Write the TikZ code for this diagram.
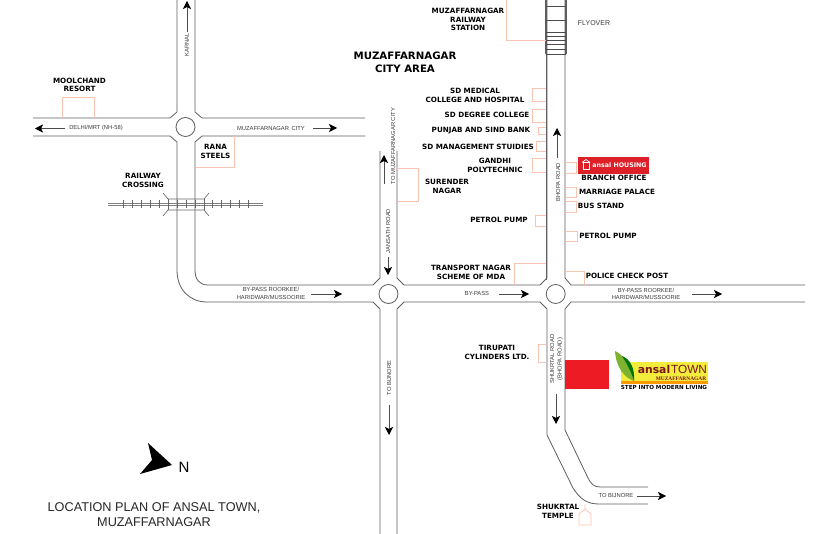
\documentclass[tikz,border=0pt]{standalone}
\usepackage{fontspec}
\setmainfont{Liberation Sans}
\newfontfamily\heavyfont{DejaVu Sans}[BoldFont={DejaVu Sans Bold}]
\newfontfamily\slabfont{Liberation Serif}
\definecolor{roadgray}{HTML}{5E5E5E}
\definecolor{plotpink}{HTML}{F9C4B0}
\definecolor{labelgray}{HTML}{3A3A3A}
\definecolor{ansalred}{HTML}{ED1C24}
\definecolor{housered}{HTML}{DD2027}
\definecolor{townred}{HTML}{7A1420}
\definecolor{townyellow}{HTML}{F2EC3C}
\definecolor{leafgreen}{HTML}{7DB32E}
\usetikzlibrary{arrows.meta}
\tikzset{
    road/.style={draw=roadgray, line width=.8pt},
    plot/.style={draw=plotpink, line width=.7pt},
    dir/.style={-{Stealth[length=8pt,width=8pt,inset=2pt,fill=black,color=black]}, draw=black!70, line width=.6pt},
    place/.style={font=\heavyfont\bfseries\fontsize{7.2}{8.6}\selectfont, align=center, inner sep=0pt, text=black},
    road label/.style={font=\fontsize{5.8}{7.5}\selectfont, align=center, inner sep=0pt, text=labelgray},
    round about/.style={circle, road, minimum size=19pt, inner sep=0pt},
}
\begin{document}
\begin{tikzpicture}[x=1pt, y=-1pt]
\useasboundingbox(0,0)rectangle(840,534);

\draw[road](177,0)--(177,112)--(170,118)--(33,118);
\draw[road](33,136)--(170,136)--(177,142)--(177,270) .. controls (177,290) and (190,302) .. (207,302)--(373,302)--(380,309)--(380,534);
\draw[road](195,0)--(195,112)--(202,118)--(365,118);
\draw[road](365,136)--(202,136)--(195,142)--(195,270) .. controls (195,279) and (199,285) .. (208,285)--(373,285)--(380,278)--(380,151);
\draw[road](397,151)--(397,278)--(404,285)--(540,285)--(547,278)--(547,0);
\draw[road](397,534)--(397,309)--(404,302)--(540,302)--(547,309)--(547,435)--(573,488) .. controls (580,499) and (587,504) .. (599,504)--(648,504);
\draw[road](565,0)--(565,278)--(571,285)--(805,285);
\draw[road](805,302)--(571,302)--(565,309)--(565,430)--(588,478) .. controls (591,484) and (594,487) .. (600,487)--(648,487);
\node[round about](circleA) at (185.5,127){};
\node[round about](circleB) at (388.5,294){};
\node[round about](circleC) at (555.7,294){};

\draw[line width=2.4pt, roadgray](546,0)--(546,54);
\draw[line width=2.4pt, roadgray](566,0)--(566,54);
\draw[line width=1.2pt, roadgray](546.5,54)--(546.5,280);
\foreach \y in {6,20,32,36,40,44,49,54}
{
    \draw[line width=.8pt, black!70](546,\y)--(566,\y);
}

\draw[draw=gray, line width=.6pt](108,203.5)--(263,203.5);
\draw[draw=gray, line width=.6pt](108,205.5)--(263,205.5);
\foreach \x in {123,132,141,150,159,177,186,195,212,221,230,239,248}
{
    \draw[draw=black!60, line width=.6pt](\x,200.5)--(\x,208.5);
}
\draw[draw=black!60, line width=.6pt](163,193)--(168,199)--(204,199)--(209,193);
\draw[draw=black!60, line width=.6pt](163,216)--(168,210)--(204,210)--(209,216);
\draw[draw=black!60, line width=.6pt](168,199)--(168,210);
\draw[draw=black!60, line width=.6pt](204,199)--(204,210);

\draw[plot](62,118)--(62,97)--(94.5,97)--(94.5,118);
\draw[plot](234,136)--(234,167)--(195.5,167);
\draw[plot](506.5,0)--(506.5,40.5)--(546,40.5);
\draw[plot](546,88)--(532,88)--(532,101)--(546,101);
\draw[plot](546,109)--(532,109)--(532,122)--(546,122);
\draw[plot](546,127)--(538,127)--(538,134.5)--(546,134.5);
\draw[plot](546,141)--(536,141)--(536,151)--(546,151);
\draw[plot](546,158)--(532,158)--(532,172)--(546,172);
\draw[plot](397.5,168.5)--(418.5,168.5)--(418.5,201)--(397.5,201);
\draw[plot](546,215)--(535,215)--(535,226)--(546,226);
\draw[plot](514.5,285)--(514.5,263.5)--(546,263.5);
\draw[plot](565.5,162.5)--(576,162.5)--(576,173)--(565.5,173);
\draw[plot](565.5,187)--(576,187)--(576,197)--(565.5,197);
\draw[plot](565.5,201.5)--(576,201.5)--(576,212)--(565.5,212);
\draw[plot](565.5,231)--(577,231)--(577,241)--(565.5,241);
\draw[plot](565.5,271)--(584,271)--(584,285);
\draw[plot](546,344)--(538,344)--(538,362)--(546,362);
\draw[plot](585,504)--(585,509)--(591,514)--(591,525)--(579,525)--(579,514)--(585,509);

\fill[ansalred](565,360)rectangle(609,389);

\node[place](moolchand) at (79.5,85){MOOLCHAND\\RESORT};
\node[place](rana) at (215.5,151.5){RANA\\STEELS};
\node[place](crossing) at (143,180.5){RAILWAY\\CROSSING};
\node[place](station) at (468,19.5){MUZAFFARNAGAR\\RAILWAY\\STATION};
\node[place, font=\heavyfont\bfseries\fontsize{10.2}{13}\selectfont](cityarea) at (405,62.5){MUZAFFARNAGAR\\CITY AREA};
\node[place](medical) at (475,95.5){SD MEDICAL\\COLLEGE AND HOSPITAL};
\node[place](degree) at (487,115){SD DEGREE COLLEGE};
\node[place](bank) at (481,131){PUNJAB AND SIND BANK};
\node[place](management) at (478,146.5){SD MANAGEMENT STUIDIES};
\node[place](gandhi) at (495,165.5){GANDHI\\POLYTECHNIC};
\node[place](surender) at (447,186.5){SURENDER\\NAGAR};
\node[place](pumpL) at (499,219.5){PETROL PUMP};
\node[place](transport) at (471,272.5){TRANSPORT NAGAR\\SCHEME OF MDA};
\node[place](branch) at (614,177.5){BRANCH OFFICE};
\node[place](marriage) at (617,192){MARRIAGE PALACE};
\node[place](busstand) at (601,206){BUS STAND};
\node[place](pumpR) at (608,235.5){PETROL PUMP};
\node[place](police) at (627,276){POLICE CHECK POST};
\node[place](tirupati) at (497,352.5){TIRUPATI\\CYLINDERS LTD.};
\node[place](temple) at (558,511.5){SHUKRTAL\\TEMPLE};

\node[road label, font=\fontsize{7}{8}\selectfont](flyover) at (594,23.5){FLYOVER};
\node[road label](delhi) at (96,128.5){DELHI/MRT (NH-58)};
\node[road label, rotate=90](karnal) at (187,45){KARNAL};
\node[road label](cityE) at (271,128.5){MUZAFFARNAGAR\, CITY};
\node[road label, rotate=90](toCity) at (393,146){TO MUZAFFARNAGAR CITY};
\node[road label, rotate=90](jansath) at (388,231){JANSATH ROAD};
\node[road label, rotate=90](bhopa) at (558,182){BHOPA ROAD};
\node[road label](bypassA) at (271,293.5){BY-PASS ROORKEE/\\HARIDWAR/MUSSOORIE};
\node[road label](bypassB) at (477,293.5){BY-PASS};
\node[road label](bypassC) at (646,294){BY-PASS ROORKEE/\\HARIDWAR/MUSSOORIE};
\node[road label, rotate=90](bijnoreA) at (389,378){TO BIJNORE};
\node[road label, rotate=90](shukrtal) at (556.5,359){SHUKRTAL ROAD\\(BHOPA ROAD)};
\node[road label](bijnoreB) at (616,496){TO BIJNORE};

\draw[dir](65,128.5)--(35,128.5);
\draw[dir](187,32)--(187,1);
\draw[dir](313,128)--(337,128);
\draw[dir](384,184)--(384,155);
\draw[dir](388,257)--(388,275);
\draw[dir](557,158)--(557,128);
\draw[dir](311,294)--(342,294);
\draw[dir](499,294)--(529,294);
\draw[dir](692,294)--(722,294);
\draw[dir](389,405)--(389,435);
\draw[dir](556,394)--(556,424);
\draw[dir](637,496)--(666,496);

\fill[housered](578,157)rectangle(649,174);
\node[inner sep=0pt, text=white, font=\heavyfont\bfseries\fontsize{6.3}{7}\selectfont](housing) at (619.5,165.5){ansal HOUSING};
\draw[white, line width=.7pt](583,162)rectangle(589,169);
\draw[white, line width=.7pt](582,162.5)--(586,159.5)--(590,162.5);

\fill[townyellow](620.7,362)rectangle(707.7,381);
\fill[orange!80!yellow](620.7,381)rectangle(707.7,384);
\fill[leafgreen](615,351) .. controls (622,354) and (631,364) .. (634,381) .. controls (625,378) and (616,368) .. (615,351);
\fill[green!45!black](622,356) .. controls (630,359) and (635,368) .. (634,381) .. controls (631,371) and (627,364) .. (622,356);
\node[inner sep=0pt, text=townred, font=\heavyfont\bfseries\fontsize{10.8}{12}\selectfont](ansal) at (654,369.5){ansal};
\node[inner sep=0pt, text=townred, font=\fontsize{11.8}{12}\selectfont](town) at (689,369.5){TOWN};
\node[inner sep=0pt, text=townred, font=\slabfont\bfseries\fontsize{5.4}{5.4}\selectfont](muz) at (681,378.3){MUZAFFARNAGAR};
\node[inner sep=0pt, text=black, font=\heavyfont\bfseries\fontsize{5.6}{6}\selectfont](tagline) at (664,387.5){STEP INTO MODERN LIVING};

\fill[black](172,465)--(148,443)--(152,460)--(140,474)--cycle;
\node[font=\fontsize{15}{15}\selectfont, inner sep=0pt](north) at (184,467){N};
\node[font=\fontsize{12.7}{15}\selectfont, align=center, inner sep=0pt, text=black!85](title) at (154,514.5){LOCATION PLAN OF ANSAL TOWN,\\MUZAFFARNAGAR};
\end{tikzpicture}
\end{document}
